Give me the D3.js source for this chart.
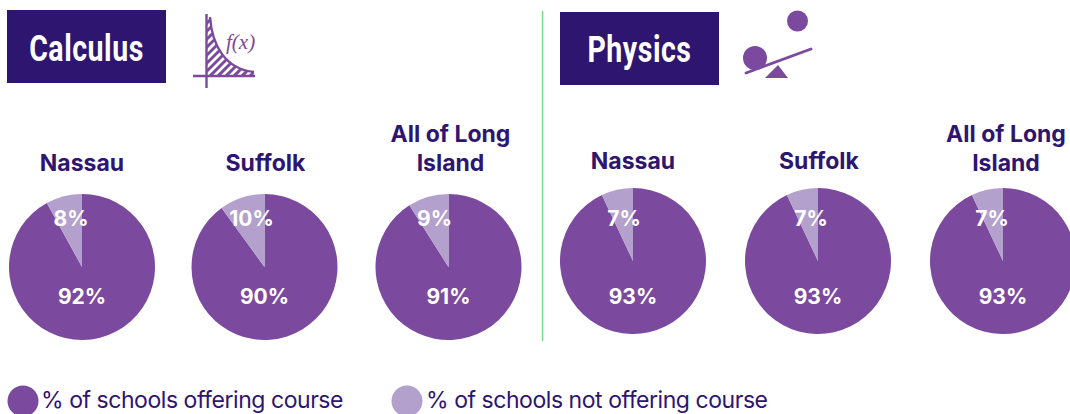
<!DOCTYPE html>
<html><head><meta charset="utf-8">
<script src="https://cdnjs.cloudflare.com/ajax/libs/d3/7.8.5/d3.min.js"></script>
<style>html,body{margin:0;padding:0;background:#fff;overflow:hidden;width:1070px;height:414px}svg{display:block}
text{font-family:Inter,"Open Sans",sans-serif}</style></head><body>
<svg id="c" width="1070" height="414"></svg>
<script>
const seriesNames = ["% of schools offering course", "% of schools not offering course"];
const calcRegions = [["Nassau"], ["Suffolk"], ["All of Long", "Island"]];
const calcOffering = [92, 90, 91];
const calcNot = [8, 10, 9];
const physRegions = [["Nassau"], ["Suffolk"], ["All of Long", "Island"]];
const physOffering = [93, 93, 93];
const physNot = [7, 7, 7];

const DARK = "#2e1570", MID = "#7b4a9e", LIGHT = "#b3a0cc";
const svg = d3.select("#c");
const color = d3.scaleOrdinal().domain(seriesNames).range([MID, LIGHT]);
const R = 73;
const arc = d3.arc().innerRadius(0).outerRadius(R);
const pie = d3.pie().sort(null).value(d => d.v);

function drawGroup(regions, a, b, xs, cy, tops, labelOff, yBig, ySmall, xSmall) {
  regions.forEach((lines, i) => {
    const g = svg.append("g").attr("transform", `translate(${xs[i]},${cy})`);
    const data = [{k: seriesNames[0], v: a[i]}, {k: seriesNames[1], v: b[i]}];
    g.selectAll("path").data(pie(data)).join("path")
      .attr("d", arc).attr("fill", d => color(d.data.k));
    g.append("text").attr("text-anchor", "middle").attr("y", yBig).attr("fill", "#fff")
      .attr("font-size", 21).attr("font-weight", 700).text(a[i] + "%");
    g.append("text").attr("text-anchor", "middle").attr("x", xSmall[i]).attr("y", ySmall).attr("fill", "#fff")
      .attr("font-size", 21).attr("font-weight", 700).text(b[i] + "%");
    const t = svg.append("text").attr("text-anchor", "middle").attr("fill", DARK)
      .attr("font-size", 23).attr("font-weight", 700);
    lines.forEach((s, j) => t.append("tspan").attr("x", xs[i] + labelOff[i]).attr("y", tops[i] + j * 29).text(s));
  });
}
drawGroup(calcRegions, calcOffering, calcNot, [82, 264.5, 448.5], 267, [171, 171, 142], [0, 1, 2], 37, -41, [-11, -13, -14]);
drawGroup(physRegions, physOffering, physNot, [633, 818, 1003], 261, [169, 169, 142], [0, 1, 3], 43, -35, [-9, -7, -11]);

// divider
svg.append("line").attr("x1", 542.5).attr("x2", 542.5).attr("y1", 11).attr("y2", 341)
  .attr("stroke", "#6fe08a").attr("stroke-width", 1.4);

// header boxes
function header(x, y, w, h, label, base) {
  svg.append("rect").attr("x", x).attr("y", y).attr("width", w).attr("height", h).attr("fill", DARK);
  svg.append("text").attr("transform", `translate(${x + w / 2},${base}) scale(0.77,1)`)
    .attr("text-anchor", "middle").attr("fill", "#fff")
    .style("font-family", "Roboto,sans-serif").attr("font-size", 37).attr("font-weight", 700)
    .attr("letter-spacing", 0.7).text(label);
}
header(7, 10, 159, 73, "Calculus", 61);
header(560, 12, 159, 73, "Physics", 62);

// f(x) icon
const ic = svg.append("g");
const curve = "M210,17 C212,45 225,69 254,72";
const clipId = "area";
svg.append("clipPath").attr("id", clipId).append("path").attr("d", curve + " L254,75 L206,75 L206,17 Z");
d3.range(230, 335, 8).forEach(c => {
  ic.append("line").attr("clip-path", `url(#${clipId})`)
    .attr("x1", 200).attr("y1", c - 200).attr("x2", 262).attr("y2", c - 262)
    .attr("stroke", MID).attr("stroke-width", 3);
});
ic.append("path").attr("d", curve).attr("fill", "none").attr("stroke", MID).attr("stroke-width", 2.4);
ic.append("path").attr("d", "M206.500,14 V88 M193,76 H255").attr("fill", "none").attr("stroke", MID).attr("stroke-width", 2.4);
ic.append("text").attr("x", 226).attr("y", 49).attr("fill", MID).attr("font-size", 21)
  .attr("font-style", "italic").style("font-family", "'Liberation Serif',serif").text("f(x)");

// seesaw icon
const sw = svg.append("g");
sw.append("circle").attr("cx", 797.5).attr("cy", 21).attr("r", 10.5).attr("fill", MID);
sw.append("circle").attr("cx", 755).attr("cy", 58).attr("r", 12).attr("fill", MID);
sw.append("line").attr("x1", 746).attr("y1", 73).attr("x2", 811).attr("y2", 49)
  .attr("stroke", MID).attr("stroke-width", 2.8).attr("stroke-linecap", "round");
sw.append("path").attr("d", "M765,78 L778,65 L788,78 Z").attr("fill", MID);

// legend
const legendX = [[23, 41], [407, 426]];
seriesNames.forEach((n, i) => {
  svg.append("circle").attr("cx", legendX[i][0]).attr("cy", 401).attr("r", 15.5).attr("fill", color(n));
  svg.append("text").attr("x", legendX[i][1]).attr("y", 408).attr("fill", DARK)
    .attr("font-size", 23).attr("letter-spacing", -0.45).attr("font-weight", 400).text(n);
});
</script></body></html>
